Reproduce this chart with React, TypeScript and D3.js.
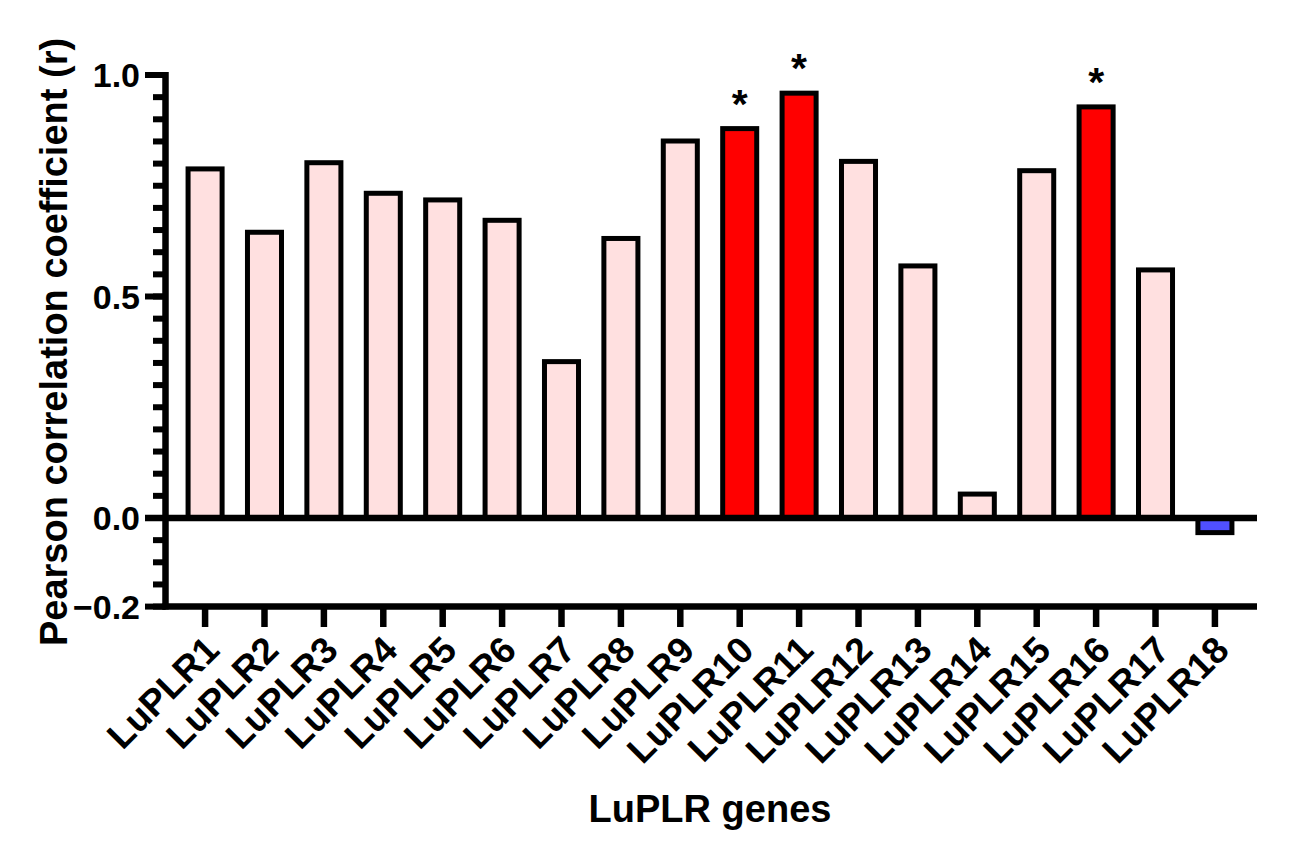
import React from "react";
import * as d3 from "d3";

const genes = [
  "LuPLR1", "LuPLR2", "LuPLR3", "LuPLR4", "LuPLR5", "LuPLR6", "LuPLR7", "LuPLR8", "LuPLR9",
  "LuPLR10", "LuPLR11", "LuPLR12", "LuPLR13", "LuPLR14", "LuPLR15", "LuPLR16", "LuPLR17", "LuPLR18",
];
const pearsonR = [
  0.788, 0.645, 0.802, 0.733, 0.718, 0.672, 0.353, 0.631, 0.851,
  0.879, 0.959, 0.805, 0.569, 0.054, 0.784, 0.928, 0.560, -0.033,
];
const significant = [
  false, false, false, false, false, false, false, false, false,
  true, true, false, false, false, false, true, false, false,
];
const majorTicks = [1.0, 0.5, 0.0, -0.2];
const majorTickLabels = ["1.0", "0.5", "0.0", "\u22120.2"];

const W = 1304;
const H = 859;
const FONT = "'Liberation Sans', Arial, Helvetica, sans-serif";

export default function App() {
  const axisX = 165.5;
  const axisRight = 1257;
  const y = d3.scaleLinear().domain([-0.2, 1.0]).range([606.6, 75]);
  const x = d3
    .scaleBand<string>()
    .domain(genes)
    .range([163, 1257])
    .paddingInner(0.343)
    .paddingOuter(0.38);

  const strokeW = 5;
  const minorTicks = d3.range(-0.2, 1.0001, 0.05).map((v) => Math.round(v * 100) / 100);
  const fillFor = (i: number) =>
    pearsonR[i] < 0 ? "#5050FF" : significant[i] ? "#FF0000" : "#FFE0E0";

  const y0 = y(0);
  const yBottom = y(-0.2);
  const yTop = y(1.0);

  return (
    <svg
      width={W}
      height={H}
      viewBox={`0 0 ${W} ${H}`}
      style={{ position: "absolute", left: 0, top: 0, background: "#fff" }}
      fontFamily={FONT}
    >
      {/* bars */}
      {genes.map((g, i) => {
        const v = pearsonR[i];
        const bx = (x(g) as number) + strokeW / 2;
        const bw = x.bandwidth() - strokeW;
        const yv = y(v);
        return (
          <rect
            key={g}
            x={bx}
            y={Math.min(yv, y0)}
            width={bw}
            height={Math.abs(y0 - yv)}
            fill={fillFor(i)}
            stroke="#000"
            strokeWidth={strokeW}
          />
        );
      })}

      {/* significance asterisks */}
      {genes.map((g, i) =>
        significant[i] ? (
          <text
            key={"s" + g}
            x={(x(g) as number) + x.bandwidth() / 2}
            y={y(pearsonR[i]) - 11}
            textAnchor="middle"
            fontSize={41}
            fontWeight="bold"
            fill="#000"
          >
            *
          </text>
        ) : null
      )}

      {/* zero line */}
      <line x1={145} x2={axisRight} y1={y0} y2={y0} stroke="#000" strokeWidth={6.5} />

      {/* y axis */}
      <line x1={axisX} x2={axisX} y1={yTop - 3} y2={yBottom + 3} stroke="#000" strokeWidth={6.5} />
      {minorTicks.map((v) => (
        <line key={"m" + v} x1={153} x2={axisX} y1={y(v)} y2={y(v)} stroke="#000" strokeWidth={6} />
      ))}
      {majorTicks.map((v, i) => (
        <g key={"M" + v}>
          <line x1={145} x2={axisX} y1={y(v)} y2={y(v)} stroke="#000" strokeWidth={6} />
          <text
            x={140}
            y={y(v)}
            dy="0.36em"
            textAnchor="end"
            fontSize={34}
            fontWeight="bold"
            fill="#000"
          >
            {majorTickLabels[i]}
          </text>
        </g>
      ))}

      {/* x axis */}
      <line x1={axisX - 3} x2={axisRight} y1={yBottom} y2={yBottom} stroke="#000" strokeWidth={6.5} />
      {genes.map((g) => {
        const cx = (x(g) as number) + x.bandwidth() / 2;
        return (
          <g key={"x" + g}>
            <line x1={cx} x2={cx} y1={yBottom} y2={627} stroke="#000" strokeWidth={6.5} />
            <text
              transform={`translate(${cx + 7},${643}) rotate(-45)`}
              dy="0.35em"
              textAnchor="end"
              fontSize={37}
              fontWeight="bold"
              fill="#000"
            >
              {g}
            </text>
          </g>
        );
      })}

      {/* axis titles */}
      <text
        transform={`translate(67,342) rotate(-90)`}
        textAnchor="middle"
        fontSize={38}
        fontWeight="bold"
        fill="#000"
      >
        Pearson correlation coefficient (r)
      </text>
      <text x={710} y={822} textAnchor="middle" fontSize={38} fontWeight="bold" fill="#000">
        LuPLR genes
      </text>
    </svg>
  );
}
